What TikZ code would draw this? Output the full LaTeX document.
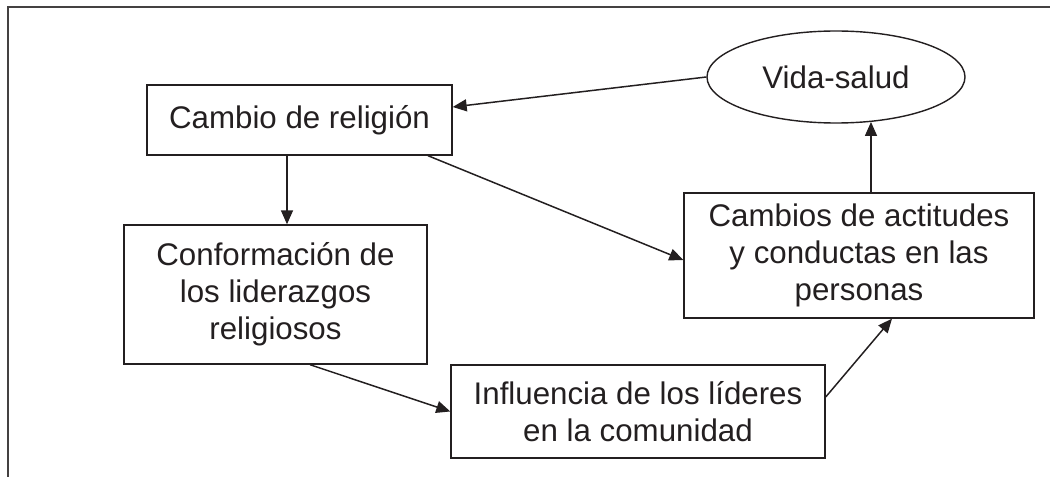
\documentclass[tikz,border=0pt]{standalone}
\usepackage{fontspec}
\setmainfont{Liberation Sans}
\usetikzlibrary{arrows.meta, shapes.geometric}
\definecolor{ink}{HTML}{231F20}

\begin{document}
\begin{tikzpicture}[
    x=0.2mm, y=-0.2mm,
    box/.style={rectangle, draw=ink, line width=0.8pt, align=center, text=ink, font=\fontsize{17.8}{21}\selectfont},
    arr/.style={-{Triangle[length=2.8mm, width=2.4mm]}, line width=0.85pt, draw=ink},
  ]
    \useasboundingbox (0,0) rectangle (1050,477);

    % Outer frame (left and top only)
    \draw[line width=1pt, draw=ink!85] (8,477) -- (8,7) -- (1050,7);

    % Boxes
    \node[box, minimum width=61mm, minimum height=14mm] (cambio) at (299.5,120) {Cambio de religión};
    \node[box, minimum width=60.6mm, minimum height=27.8mm] (conf) at (275.5,294.5) {Conformación de\\los liderazgos\\religiosos};
    \node[box, minimum width=70mm, minimum height=25mm] (camb) at (859,255.5) {Cambios de actitudes\\y conductas en las\\personas};
    \node[box, minimum width=74.8mm, minimum height=18.6mm] (infl) at (638,411.5) {Influencia de los líderes\\en la comunidad};
    \node[box, ellipse, inner sep=0pt, minimum width=51.6mm, minimum height=18.4mm] (vida) at (836,77) {Vida-salud};

    % Arrows
    \draw[arr] (vida.west) -- ([yshift=2.6mm]cambio.east);
    \draw[arr] ([xshift=-2.5mm]cambio.south) -- ([xshift=-2.5mm]cambio.south |- conf.north);
    \draw[arr] ([xshift=25.7mm]cambio.south) -- ([yshift=-0.9mm]camb.west);
    \draw[arr] ([xshift=6.9mm]conf.south) -- (infl.west);
    \draw[arr] ([yshift=2.9mm]infl.east) -- ([xshift=6.6mm]camb.south);
    \draw[arr] ([xshift=2.4mm]camb.north) -- ([xshift=2.4mm]camb.north |- vida.-52);
  \end{tikzpicture}
\end{document}
